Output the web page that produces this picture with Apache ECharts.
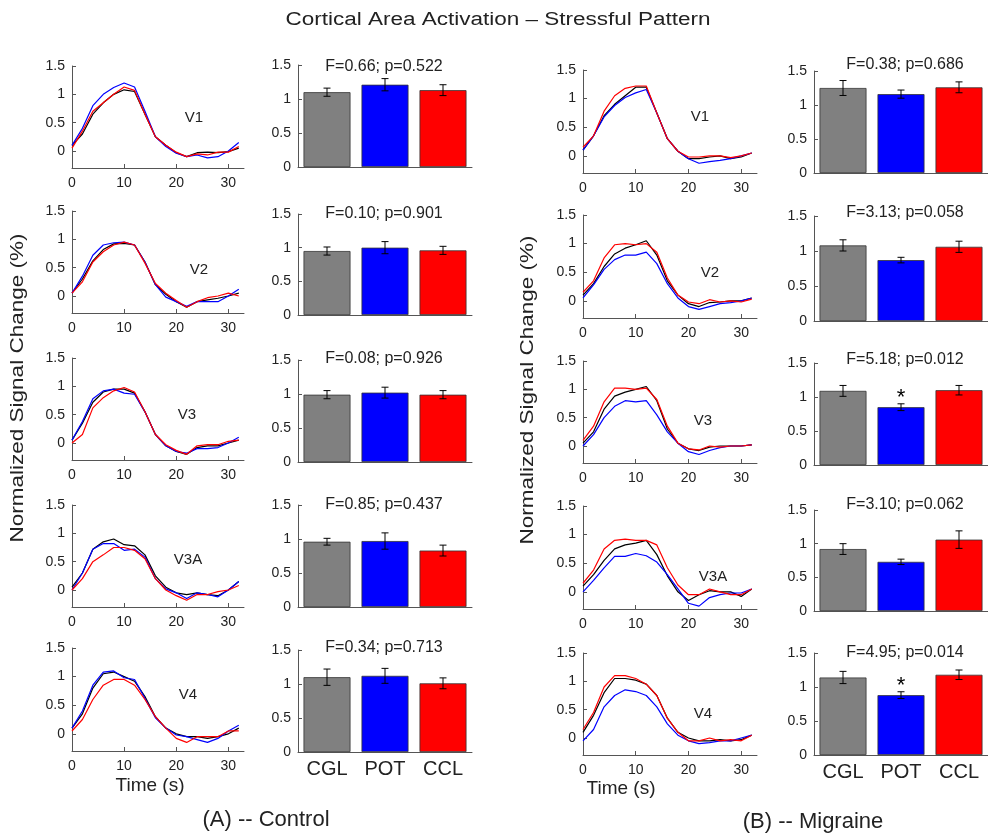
<!DOCTYPE html>
<html><head><meta charset="utf-8">
<script src="https://cdn.jsdelivr.net/npm/echarts@6/dist/echarts.min.js"></script>
<style>html,body{margin:0;padding:0;background:#fff}#c{width:988px;height:833px}</style>
</head><body><div id="c"></div>
<script>
// ---------- DATA ----------
const timeS = [0,2,4,6,8,10,12,14,16,18,20,22,24,26,28,30,32];
const regions = ['V1','V2','V3','V3A','V4'];
const groups = ['CGL','POT','CCL'];
const lineTicksX = [0,10,20,30];
const lineTicksY = [0,0.5,1,1.5];

// Control time courses (CGL = black, POT = blue, CCL = red)
const ctrlV1CGL = [0.10,0.30,0.65,0.85,1.00,1.08,1.05,0.65,0.25,0.10,-0.03,-0.10,-0.03,-0.02,-0.03,-0.01,0.05];
const ctrlV1POT = [0.10,0.40,0.80,1.00,1.12,1.20,1.13,0.70,0.25,0.08,-0.04,-0.10,-0.07,-0.12,-0.10,0.00,0.15];
const ctrlV1CCL = [0.05,0.35,0.70,0.85,1.00,1.13,1.07,0.65,0.25,0.10,-0.02,-0.10,-0.05,-0.07,-0.02,-0.02,0.08];
const ctrlV2CGL = [0.05,0.30,0.62,0.82,0.92,0.93,0.90,0.60,0.20,0.03,-0.10,-0.20,-0.10,-0.07,-0.04,0.00,0.05];
const ctrlV2POT = [0.05,0.35,0.72,0.90,0.94,0.95,0.90,0.60,0.20,-0.02,-0.10,-0.18,-0.10,-0.10,-0.10,0.00,0.12];
const ctrlV2CCL = [0.05,0.25,0.60,0.78,0.90,0.95,0.90,0.58,0.22,0.05,-0.08,-0.20,-0.10,-0.03,0.00,0.05,0.00];
const ctrlV3CGL = [0.05,0.35,0.72,0.90,0.95,0.95,0.88,0.55,0.15,-0.05,-0.15,-0.20,-0.08,-0.05,-0.05,0.00,0.05];
const ctrlV3POT = [0.05,0.38,0.78,0.92,0.95,0.88,0.86,0.55,0.15,-0.05,-0.15,-0.18,-0.10,-0.10,-0.08,0.00,0.10];
const ctrlV3CCL = [0.00,0.15,0.62,0.80,0.92,0.98,0.90,0.55,0.15,-0.03,-0.13,-0.20,-0.05,-0.03,-0.03,0.03,0.05];
const ctrlV3ACGL = [0.05,0.30,0.72,0.85,0.90,0.80,0.78,0.62,0.25,0.05,-0.05,-0.08,-0.05,-0.08,-0.10,0.00,0.15];
const ctrlV3APOT = [0.00,0.30,0.72,0.82,0.82,0.70,0.72,0.58,0.20,0.02,-0.05,-0.15,-0.05,-0.08,-0.12,0.00,0.15];
const ctrlV3ACCL = [0.00,0.20,0.50,0.62,0.75,0.75,0.70,0.55,0.20,0.00,-0.10,-0.18,-0.08,-0.08,-0.03,0.00,0.08];
const ctrlV4CGL = [0.10,0.35,0.80,1.05,1.08,1.00,0.92,0.65,0.30,0.10,0.00,-0.05,-0.05,-0.08,-0.05,0.00,0.10];
const ctrlV4POT = [0.10,0.40,0.85,1.08,1.10,0.98,0.95,0.62,0.28,0.10,-0.02,-0.05,-0.10,-0.15,-0.08,0.05,0.15];
const ctrlV4CCL = [0.05,0.25,0.60,0.85,0.95,0.95,0.85,0.60,0.30,0.10,-0.08,-0.15,-0.05,-0.05,-0.05,0.05,0.05];

// Migraine time courses
const migV1CGL = [0.10,0.35,0.70,0.90,1.05,1.20,1.20,0.75,0.30,0.08,-0.05,-0.05,-0.02,0.00,-0.05,-0.02,0.05];
const migV1POT = [0.10,0.35,0.68,0.88,1.02,1.10,1.16,0.75,0.30,0.08,-0.05,-0.13,-0.10,-0.08,-0.05,0.00,0.05];
const migV1CCL = [0.15,0.35,0.78,1.05,1.18,1.22,1.22,0.75,0.30,0.08,-0.02,-0.02,0.00,0.00,-0.03,0.00,0.05];
const migV2CGL = [0.10,0.30,0.60,0.82,0.92,0.98,1.05,0.80,0.35,0.10,-0.05,-0.10,-0.03,-0.02,0.00,0.00,0.05];
const migV2POT = [0.05,0.28,0.55,0.72,0.80,0.80,0.85,0.65,0.30,0.05,-0.10,-0.15,-0.10,-0.05,-0.03,0.00,0.05];
const migV2CCL = [0.15,0.35,0.75,0.98,1.00,0.98,1.00,0.85,0.40,0.10,-0.02,-0.05,0.02,-0.02,0.00,-0.02,0.03];
const migV3CGL = [0.05,0.25,0.65,0.88,0.95,1.00,1.05,0.80,0.30,0.05,-0.05,-0.08,-0.02,0.00,0.00,0.00,0.02];
const migV3POT = [0.00,0.20,0.50,0.70,0.80,0.78,0.80,0.55,0.25,0.05,-0.10,-0.15,-0.08,-0.03,0.00,0.00,0.02];
const migV3CCL = [0.10,0.35,0.78,1.02,1.02,1.00,1.02,0.82,0.35,0.05,-0.05,-0.07,0.00,-0.02,0.00,0.00,0.02];
const migV3ACGL = [0.10,0.30,0.55,0.75,0.82,0.85,0.90,0.65,0.28,0.00,-0.15,-0.05,0.02,0.00,0.00,-0.08,0.05];
const migV3APOT = [0.00,0.20,0.42,0.62,0.62,0.67,0.63,0.52,0.30,0.05,-0.20,-0.25,-0.10,-0.05,-0.02,-0.02,0.05];
const migV3ACCL = [0.15,0.38,0.75,0.90,0.92,0.90,0.90,0.82,0.42,0.12,-0.05,-0.05,0.05,0.00,-0.05,-0.05,0.05];
const migV4CGL = [0.10,0.40,0.80,1.05,1.05,1.02,0.95,0.75,0.35,0.10,0.00,-0.05,-0.05,-0.03,-0.05,-0.03,0.05];
const migV4POT = [-0.05,0.15,0.55,0.75,0.85,0.82,0.75,0.55,0.25,0.05,-0.05,-0.10,-0.08,-0.05,-0.05,0.00,0.05];
const migV4CCL = [0.15,0.45,0.90,1.10,1.10,1.05,0.95,0.75,0.35,0.10,-0.05,-0.05,0.00,-0.05,-0.03,-0.05,0.05];

// Bar means and standard errors [CGL, POT, CCL]
const ctrlMeanV1 = [1.10,1.21,1.13],  ctrlErrV1 = [0.06,0.09,0.08];
const ctrlMeanV2 = [0.95,1.00,0.96],  ctrlErrV2 = [0.06,0.09,0.06];
const ctrlMeanV3 = [0.99,1.02,0.99],  ctrlErrV3 = [0.06,0.08,0.06];
const ctrlMeanV3A = [0.96,0.97,0.83], ctrlErrV3A = [0.05,0.12,0.08];
const ctrlMeanV4 = [1.10,1.12,1.01],  ctrlErrV4 = [0.12,0.11,0.08];
const migMeanV1 = [1.25,1.16,1.26],   migErrV1 = [0.11,0.06,0.08];
const migMeanV2 = [1.08,0.87,1.06],   migErrV2 = [0.08,0.04,0.08];
const migMeanV3 = [1.09,0.85,1.10],   migErrV3 = [0.08,0.05,0.07];
const migMeanV3A = [0.92,0.73,1.06],  migErrV3A = [0.08,0.04,0.13];
const migMeanV4 = [1.14,0.88,1.18],   migErrV4 = [0.09,0.05,0.07];

const ctrlStats = ['F=0.66; p=0.522','F=0.10; p=0.901','F=0.08; p=0.926','F=0.85; p=0.437','F=0.34; p=0.713'];
const migStats  = ['F=0.38; p=0.686','F=3.13; p=0.058','F=5.18; p=0.012','F=3.10; p=0.062','F=4.95; p=0.014'];
const migPotMarks = ['','','*','','*'];   // significance mark on the POT bar, per region

// ---------- assembly ----------
const ctrlLines = [[ctrlV1CGL,ctrlV1POT,ctrlV1CCL],[ctrlV2CGL,ctrlV2POT,ctrlV2CCL],[ctrlV3CGL,ctrlV3POT,ctrlV3CCL],[ctrlV3ACGL,ctrlV3APOT,ctrlV3ACCL],[ctrlV4CGL,ctrlV4POT,ctrlV4CCL]];
const migLines = [[migV1CGL,migV1POT,migV1CCL],[migV2CGL,migV2POT,migV2CCL],[migV3CGL,migV3POT,migV3CCL],[migV3ACGL,migV3APOT,migV3ACCL],[migV4CGL,migV4POT,migV4CCL]];
const ctrlMeans = [ctrlMeanV1,ctrlMeanV2,ctrlMeanV3,ctrlMeanV3A,ctrlMeanV4];
const ctrlErrs = [ctrlErrV1,ctrlErrV2,ctrlErrV3,ctrlErrV3A,ctrlErrV4];
const migMeans = [migMeanV1,migMeanV2,migMeanV3,migMeanV3A,migMeanV4];
const migErrs = [migErrV1,migErrV2,migErrV3,migErrV3A,migErrV4];

const FONT = "Arial, 'Liberation Sans', sans-serif";
const TXT = '#222';
const AXC = '#555';
const lineColors = ['#000000','#0000ff','#ff0000'];
const barColors = ['#808080','#0000ff','#ff0000'];

const layout = {
  ctrlLine: {left:72, width:172, tops:[66,211,358,505,648], bottoms:[168,313,460,607,751]},
  ctrlBar:  {left:298, width:174, tops:[65,214,360,505,650], bottoms:[167,315,462,607,752]},
  migLine:  {left:583, width:174, tops:[70,215,361,506,653], bottoms:[173,318,463,609,755]},
  migBar:   {left:814, width:176, tops:[71,216,363,510,653], bottoms:[173,321,465,611,755]}
};

const grid=[], xAxis=[], yAxis=[], series=[];
function addGrid(l, r){ grid.push({left:l.left, width:l.width, top:l.tops[r], height:l.bottoms[r]-l.tops[r]}); return grid.length-1; }

const axLabel = {fontSize:14, color:TXT, fontFamily:FONT};
function lineAxes(k){
  xAxis.push({gridIndex:k, type:'value', min:0, max:33,
    axisLine:{show:true, onZero:false, lineStyle:{color:AXC, width:1}},
    axisTick:{show:true, inside:true, length:4, customValues:lineTicksX, lineStyle:{color:AXC}},
    axisLabel:Object.assign({customValues:lineTicksX, margin:8}, axLabel),
    splitLine:{show:false}});
  yAxis.push({gridIndex:k, type:'value', min:-0.3, max:1.5,
    axisLine:{show:true, onZero:false, lineStyle:{color:AXC, width:1}},
    axisTick:{show:true, inside:true, length:4, customValues:lineTicksY, lineStyle:{color:AXC}},
    axisLabel:Object.assign({customValues:lineTicksY, margin:7}, axLabel),
    splitLine:{show:false}});
}
function barAxes(k, showCat){
  xAxis.push({gridIndex:k, type:'category', data:groups,
    axisLine:{show:true, lineStyle:{color:AXC, width:1}},
    axisTick:{show:false},
    axisLabel:{show:showCat, fontSize:20, color:TXT, fontFamily:FONT, margin:7},
    splitLine:{show:false}});
  yAxis.push({gridIndex:k, type:'value', min:0, max:1.5, interval:0.5,
    axisLine:{show:true, lineStyle:{color:AXC, width:1}},
    axisTick:{show:true, inside:true, length:4, lineStyle:{color:AXC}},
    axisLabel:Object.assign({margin:7}, axLabel),
    splitLine:{show:false}});
}
function addLines(k, sets){
  [0,2,1].forEach(g=>{
    series.push({type:'line', xAxisIndex:k, yAxisIndex:k, symbol:'none', silent:true,
      lineStyle:{color:lineColors[g], width:1.2}, z:2+g,
      data: timeS.map((t,i)=>[t, sets[g][i]])});
  });
}
function addBars(k, means, errs, mark){
  series.push({type:'bar', xAxisIndex:k, yAxisIndex:k, barWidth:'81%', silent:true,
    data: means.map((m,i)=>({value:m,
      itemStyle:{color:barColors[i], borderColor:'#333', borderWidth:0.8},
      label: (mark && i===1) ? {show:true, position:'top', formatter:mark, fontSize:22, color:'#000', distance:-2, fontFamily:FONT} : {show:false}
    }))});
  series.push({type:'custom', xAxisIndex:k, yAxisIndex:k, silent:true, z:5,
    data: means.map((m,i)=>[i, m, errs[i]]),
    encode:{x:0, y:1},
    renderItem:(params, api)=>{
      const i=api.value(0), m=api.value(1), e=api.value(2);
      const hi=api.coord([i, m+e]), lo=api.coord([i, m-e]);
      const w=3.5, st={stroke:'#000', lineWidth:1};
      return {type:'group', children:[
        {type:'line', shape:{x1:hi[0], y1:hi[1], x2:lo[0], y2:lo[1]}, style:st},
        {type:'line', shape:{x1:hi[0]-w, y1:hi[1], x2:hi[0]+w, y2:hi[1]}, style:st},
        {type:'line', shape:{x1:lo[0]-w, y1:lo[1], x2:lo[0]+w, y2:lo[1]}, style:st}
      ]};
    }});
}

for(let r=0;r<5;r++){
  let k=addGrid(layout.ctrlLine, r); lineAxes(k); addLines(k, ctrlLines[r]);
  k=addGrid(layout.ctrlBar, r); barAxes(k, r===4); addBars(k, ctrlMeans[r], ctrlErrs[r], '');
  k=addGrid(layout.migLine, r); lineAxes(k); addLines(k, migLines[r]);
  k=addGrid(layout.migBar, r); barAxes(k, r===4); addBars(k, migMeans[r], migErrs[r], migPotMarks[r]);
}

function txt(x, y, text, size, extra){
  return Object.assign({type:'text', x:x, y:y, silent:true,
    style:{text:text, fill:TXT, fontSize:size, fontFamily:FONT, align:'center', verticalAlign:'middle'}}, extra||{});
}
const ctrlRegPos = [[194,118],[199,270],[187,415],[188,560],[188,695]];
const migRegPos = [[700,117],[710,273],[703,421],[713,577],[703,714]];
const ctrlStatY = [67,214,359,505,648];
const migStatY = [65,213,360,505,653];
const graphic = [
  txt(498, 20, 'Cortical Area Activation \u2013 Stressful Pattern', 18, {scaleX:1.25}),
  txt(18, 388, 'Normalized Signal Change (%)', 18, {rotation:Math.PI/2, scaleX:1.25}),
  txt(528, 390, 'Normalized Signal Change (%)', 18, {rotation:Math.PI/2, scaleX:1.25}),
  txt(150, 786, 'Time (s)', 19),
  txt(621, 789, 'Time (s)', 19),
  txt(266, 820, '(A) -- Control', 22),
  txt(813, 822, '(B) -- Migraine', 22)
];
regions.forEach((name, r)=>{
  graphic.push(txt(ctrlRegPos[r][0], ctrlRegPos[r][1], name, 15));
  graphic.push(txt(migRegPos[r][0], migRegPos[r][1], name, 15));
  graphic.push(txt(384, ctrlStatY[r], ctrlStats[r], 16));
  graphic.push(txt(905, migStatY[r], migStats[r], 16));
});

const chart = echarts.init(document.getElementById('c'), null, {renderer:'canvas'});
chart.setOption({animation:false, backgroundColor:'#fff', grid, xAxis, yAxis, series, graphic});
</script>
</body></html>
